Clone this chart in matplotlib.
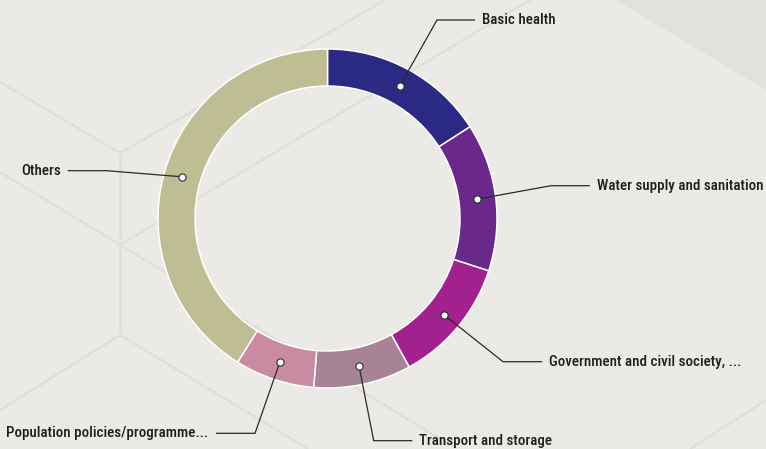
import numpy as np
import matplotlib
matplotlib.use("Agg")
import matplotlib.pyplot as plt
from matplotlib.patches import Polygon

# Sector shares of the total (percent)
categories = [
    "Basic health",
    "Water supply and sanitation",
    "Government and civil society, ...",
    "Transport and storage",
    "Population policies/programme...",
    "Others",
]
shares = [15.9, 14.1, 12.0, 9.3, 7.6, 41.1]
colors = ["#2A2A85", "#6A288A", "#A2218E", "#A78395", "#C98AA2", "#BFBD93"]

W, H = 766, 449
BG = "#EBEAE6"

# Canvas in pixel units (y measured from the top, flipped via fy)
def fy(y):
    return H - y

fig = plt.figure(figsize=(W / 100, H / 100), dpi=100)
fig.patch.set_facecolor(BG)
ax = fig.add_axes([0, 0, 1, 1])
ax.set_facecolor(BG)

# Decorative background: faint hexagonal lines and a shaded corner
ax.add_patch(Polygon([(616, fy(0)), (766, fy(90)), (766, fy(0))],
                     closed=True, facecolor="#E2E1DD", edgecolor="none", zorder=0))
bg_lines = [
    [(0, 82), (120, 153)],
    [(120, 153), (385, 0)],
    [(120, 153), (120, 335)],
    [(0, 172), (457, 449)],
    [(120, 245), (530, 0)],
    [(120, 335), (0, 410)],
    [(120, 335), (308, 449)],
    [(690, 449), (766, 400)],
]
for seg in bg_lines:
    xs = [p[0] for p in seg]
    ys = [fy(p[1]) for p in seg]
    ax.plot(xs, ys, color="#E0DFDA", lw=1.8, solid_capstyle="butt", zorder=1)

# Donut
cx, cy = 327.5, fy(218.5)
r_out, ring = 169.5, 37.0
wedges, _ = ax.pie(
    shares, colors=colors, startangle=90, counterclock=False,
    center=(cx, cy), radius=r_out,
    wedgeprops=dict(width=ring, edgecolor="white", linewidth=1.1),
    frame=True,
)
for w in wedges:
    w.set_zorder(3)

# Label layout: elbow point, end of horizontal leader, text x, alignment
elbows = [(437, 20), (551, 185.7), (503, 361.7), (373.7, 440.7), (255, 433.3), (106.7, 170.7)]
h_ends = [474.5, 589.3, 541.7, 411.7, 216.7, 68.3]
text_x = [482.5, 596.7, 549.3, 419.3, 208.3, 60.7]
aligns = ["left", "left", "left", "left", "right", "right"]

font_family = ["Roboto Condensed", "Liberation Sans Narrow", "Liberation Sans", "DejaVu Sans"]
r_mid = r_out - ring / 2
for w, lab, (ex, ey), hx, tx, ha in zip(wedges, categories, elbows, h_ends, text_x, aligns):
    mid = np.deg2rad((w.theta1 + w.theta2) / 2)
    dx, dy = cx + r_mid * np.cos(mid), cy + r_mid * np.sin(mid)
    ax.plot([dx, ex, hx], [dy, fy(ey), fy(ey)], color="#2A2A2A", lw=0.9, zorder=4,
            solid_joinstyle="miter")
    ax.plot([dx], [dy], marker="o", ms=5.2, mfc="white", mec="#2A2A2A", mew=0.8, zorder=5)
    ax.text(tx, fy(ey + 4.0), lab, ha=ha, va="baseline", fontsize=10.8,
            color="#1E1E1E", family=font_family, fontstretch="condensed",
            fontweight="medium", zorder=6)

ax.set_xlim(0, W)
ax.set_ylim(0, H)
ax.set_aspect("equal")
ax.set_axis_off()

fig.savefig("out.png", dpi=100, facecolor=BG)
